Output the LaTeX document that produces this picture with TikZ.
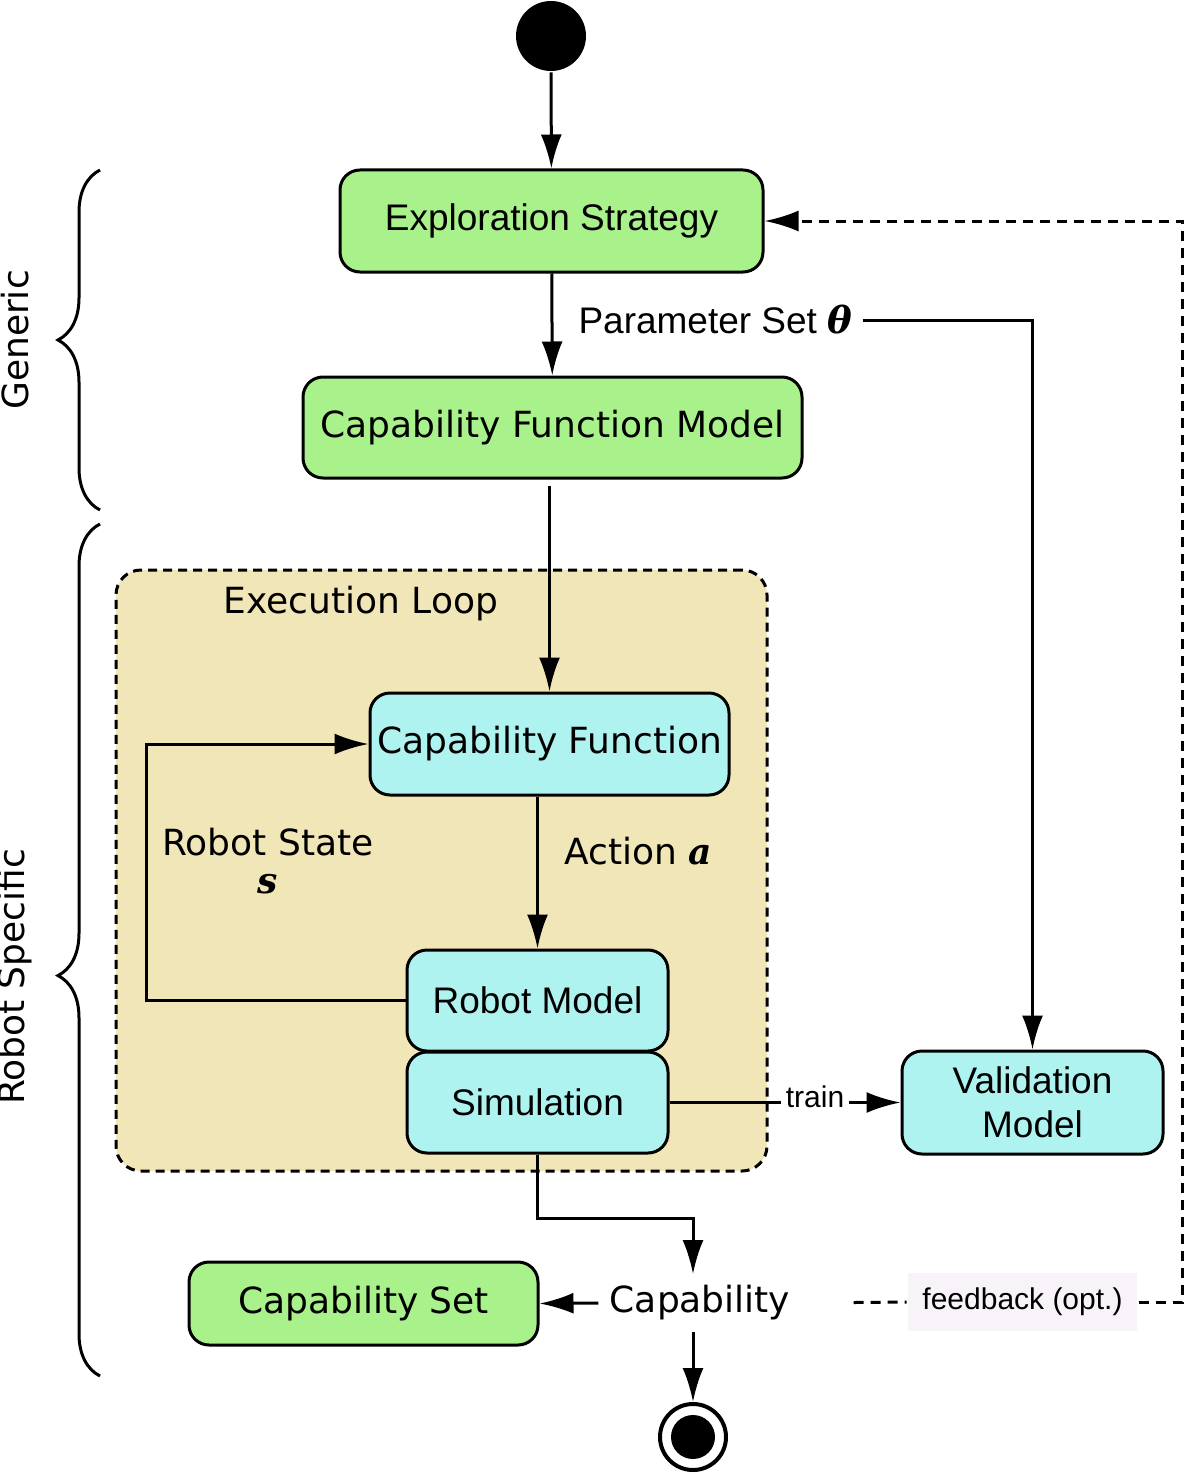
\documentclass[tikz,border=0pt]{standalone}
\usepackage{fontspec}
\setmainfont{DejaVu Sans}
\newfontfamily\arialfont{Liberation Sans}
\newfontfamily\mathbi{DejaVu Serif}
\usetikzlibrary{positioning,arrows.meta,calc,decorations.pathreplacing}
\definecolor{boxgreen}{HTML}{A9F18B}
\definecolor{boxcyan}{HTML}{AFF3F1}
\definecolor{looptan}{HTML}{F0E6B7}
\definecolor{fbbg}{HTML}{F8F3F9}
\newcommand{\vsym}[1]{{\mathbi\bfseries\itshape #1}}

\begin{document}
\begin{tikzpicture}[x=1pt,y=-1pt,line width=3pt,>={Latex[length=34pt,width=21pt]},
  big/.style={font=\fontsize{36}{44}\selectfont},
  arial/.style={font=\arialfont\fontsize{37}{44}\selectfont},
  box/.style={draw,rounded corners=20pt,inner sep=0pt,align=center},
  greenbox/.style={box,fill=boxgreen},
  cyanbox/.style={box,fill=boxcyan},
  lbl/.style={inner sep=0pt,align=center}]
\useasboundingbox (0,0) rectangle (1183,1474);

% execution loop background
\node (loop) at (441.5,870.5) [draw,dashed,dash pattern=on 9pt off 6pt,fill=looptan,rounded corners=25pt,minimum width=651pt,minimum height=601pt] {};
\node (looplbl) at (361,604) [lbl,big] {Execution Loop};

\node (start) at (551,36) [circle,fill=black,minimum size=70pt,inner sep=0pt] {};
\node (explore) at (551.5,221) [greenbox,arial,minimum width=423pt,minimum height=102pt] {Exploration Strategy};
\node (cfm) at (552.5,427.5) [greenbox,big,minimum width=499pt,minimum height=101pt] {Capability Function Model};
\node (param) at (577,320) [lbl,arial,anchor=west] {Parameter Set \vsym{θ}};
\node (capfn) at (549.5,744) [cyanbox,big,minimum width=359pt,minimum height=102pt] {Capability Function};
\node (action) at (563,851) [lbl,big,anchor=west] {Action \vsym{a}};
\node (state) at (268,861) [lbl,big] {Robot State\\[-6pt]\vsym{s}};
\node (robot) at (537.5,1000.5) [cyanbox,arial,minimum width=261pt,minimum height=101pt] {Robot Model};
\node (sim) at (537.5,1102.5) [cyanbox,arial,minimum width=261pt,minimum height=101pt] {Simulation};
\node (valid) at (1032.5,1102.5) [cyanbox,arial,minimum width=261pt,minimum height=103pt] {Validation\\Model};
\node (cap) at (700,1303) [lbl,big,inner sep=10pt] {Capability};
\node (capset) at (363.5,1303.5) [greenbox,big,minimum width=349pt,minimum height=83pt] {Capability Set};
\node (fb) at (1022.5,1302) [fill=fbbg,minimum width=229pt,minimum height=58pt,inner sep=0pt,font=\arialfont\fontsize{30}{36}\selectfont] {feedback (opt.)};
\node (end) at (693,1437) [circle,draw,line width=4pt,minimum size=66pt,inner sep=0pt,
  path picture={\fill[black] (path picture bounding box.center) circle (22pt);}] {};

\node (generic) at (15,340) [lbl,big,rotate=90] {Generic};
\node (specific) at (15,977) [lbl,big,rotate=90] {Robot Specific};

\draw[->] (start) -- (explore);
\draw[->] (explore) -- (cfm);
\draw[->,shorten <=6pt] (capfn.north |- cfm.south) -- (capfn.north);
\draw[->] (param.east) [shorten <=9pt] -| (valid.north);
\draw[->] (robot.north |- capfn.south) -- (robot.north);
\draw[->] (robot.west) -- ++(-259,0) |- (capfn.west);
\draw[->] (sim.east) -- node[pos=0.63,yshift=6pt,fill=white,inner sep=5pt,font=\arialfont\fontsize{30}{36}\selectfont] {train} (valid.west);
\draw[->] (sim.south) -- ++(0,64) -| ([xshift=-7pt]cap.north);
\draw[->] (cap.west) -- (capset.east);
\draw[->] ([xshift=-7pt]cap.south) -- (end);
\draw[dashed,dash pattern=on 10pt off 7pt,shorten <=52pt] (cap.east) -- (fb.west);
\draw[->,dashed,dash pattern=on 10pt off 7pt] (fb.east) -- ++(44,0) |- (explore.east);

% braces
\draw[decorate,decoration={brace,amplitude=42pt}] (100,510) -- (100,170);
\draw[decorate,decoration={brace,amplitude=42pt,aspect=0.47}] (100,1376) -- (100,524);
\end{tikzpicture}
\end{document}
